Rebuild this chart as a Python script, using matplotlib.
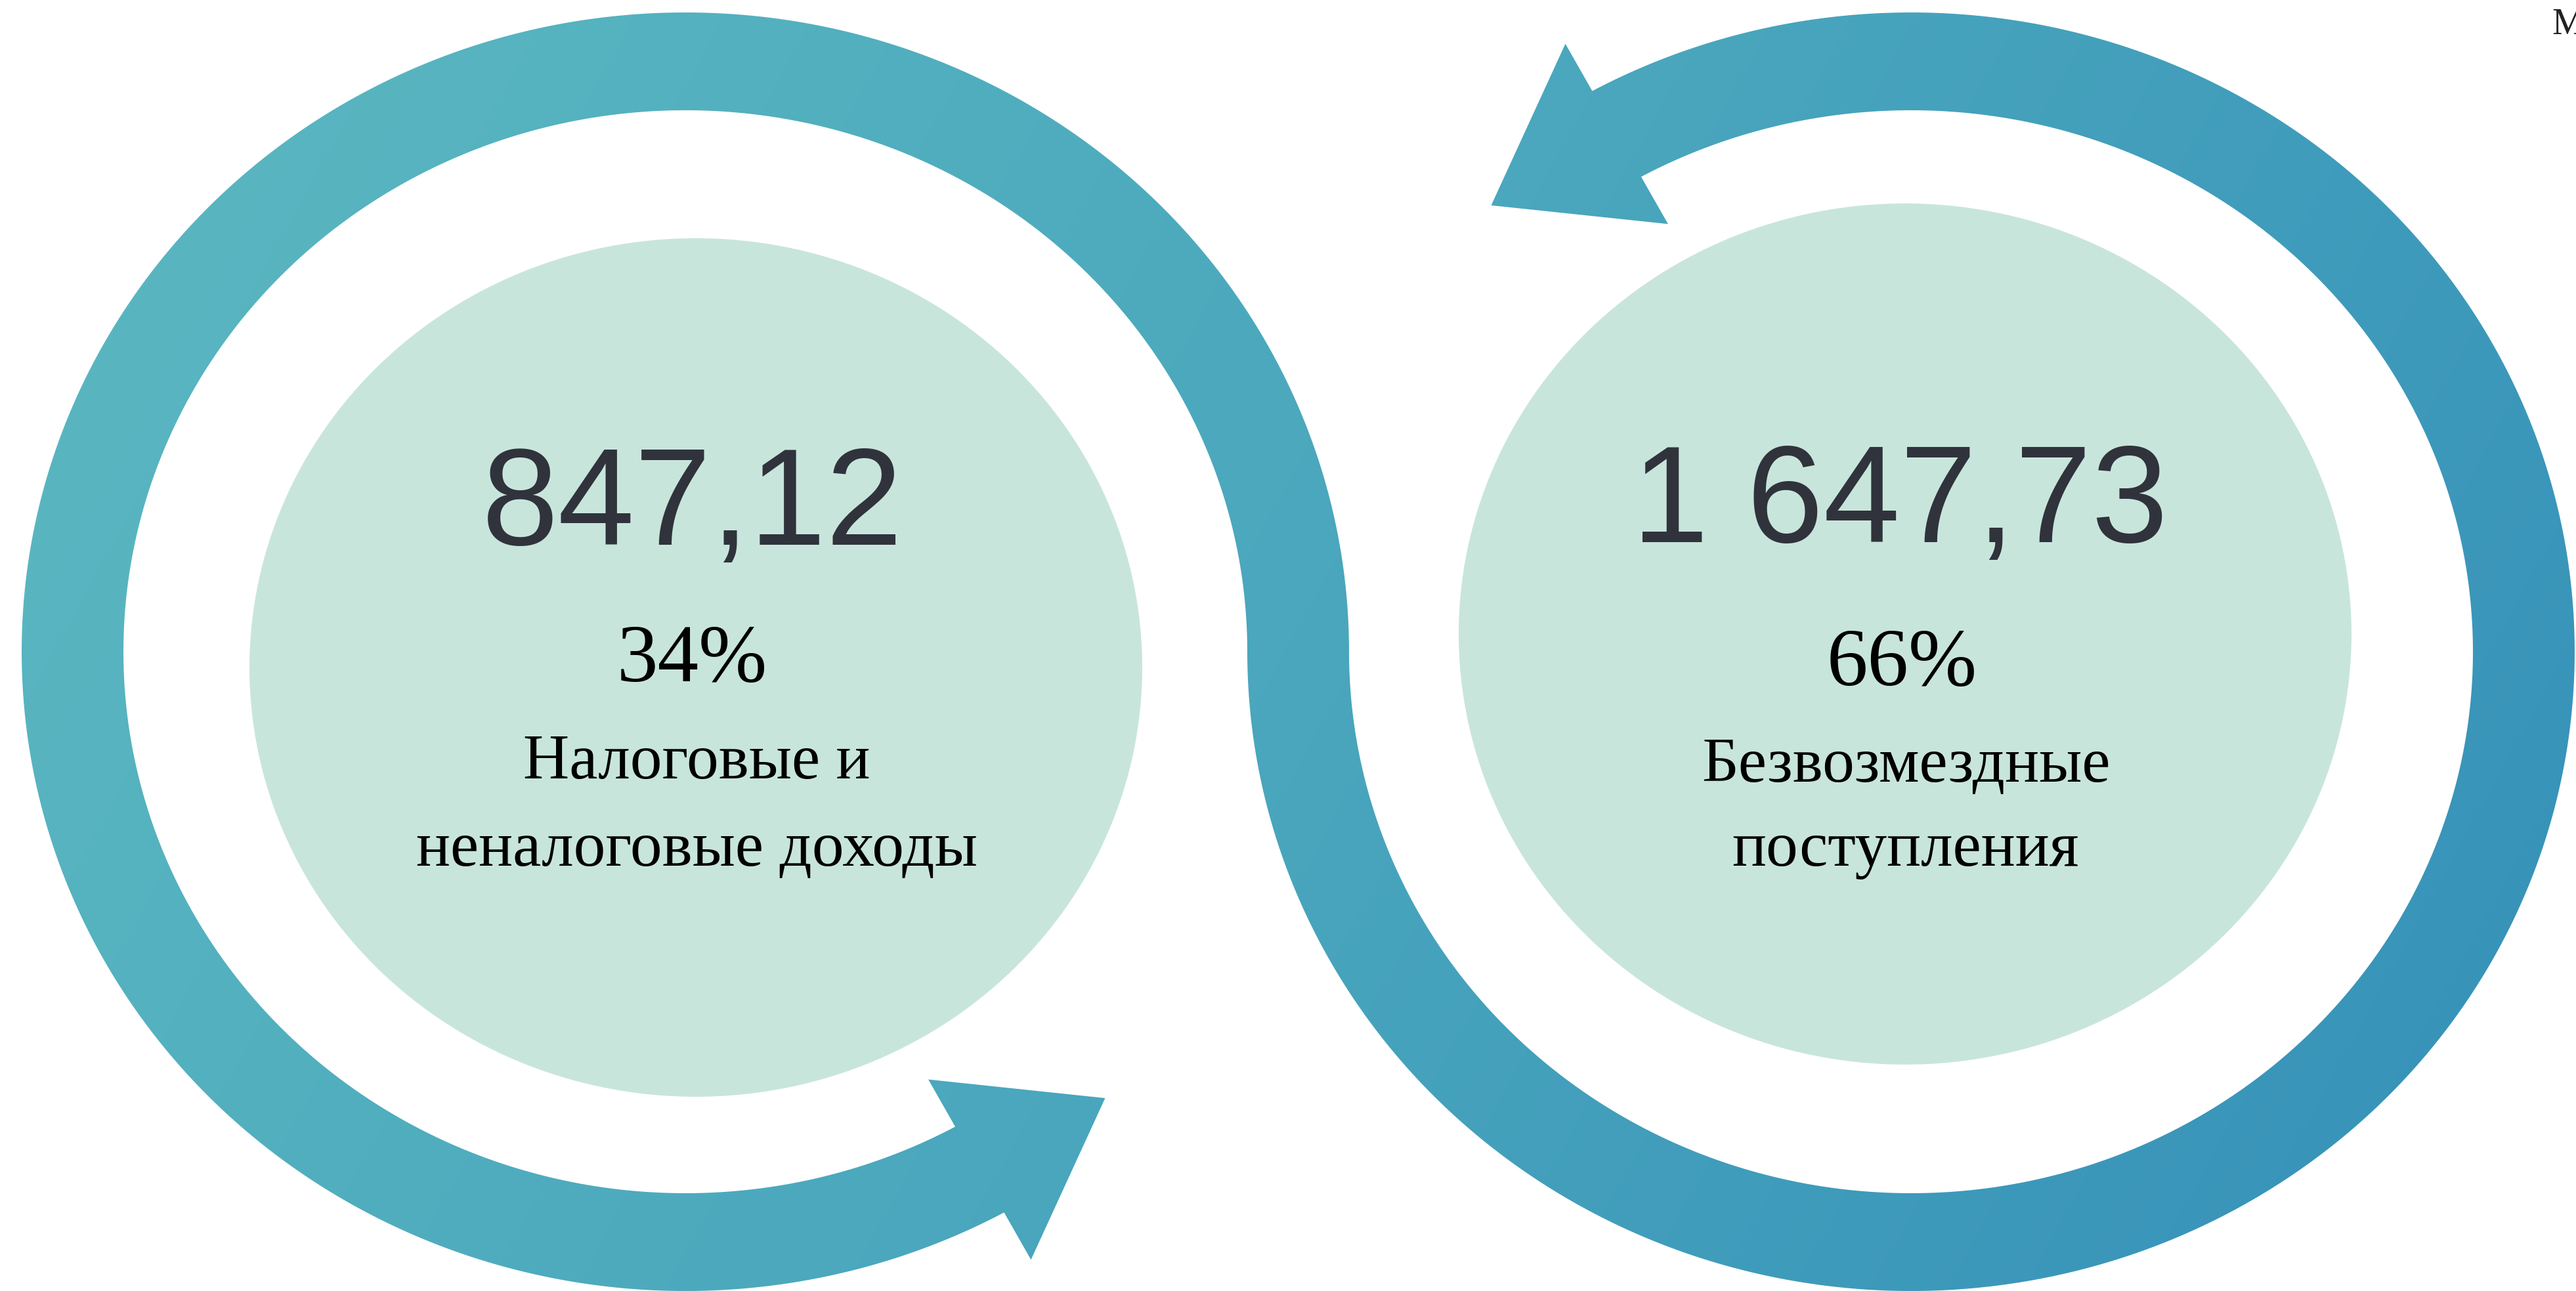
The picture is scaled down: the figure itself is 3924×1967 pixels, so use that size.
import numpy as np
import matplotlib.pyplot as plt
from matplotlib.path import Path
from matplotlib.patches import PathPatch, Ellipse
from matplotlib.colors import LinearSegmentedColormap

W, H = 3924, 1967

# данные
values = [847.12, 1647.73]
shares = [34, 66]
labels = [['Налоговые и', 'неналоговые доходы'],
          ['Безвозмездные', 'поступления']]
unit = 'Млн. руб.'

# геометрия колец (в пикселях картинки)
cy = 993
cx_rings = [1044, 2911]
a_out, a_in = 1011, 856
b_out, b_in = 974, 825
t_end = 298.7


def ell(cx, a, b, t):
    return np.column_stack([cx + a*np.cos(t), cy - b*np.sin(t)])


def head(p_in, p_out, half=158, length=220):
    P = (p_in + p_out) / 2
    u = (p_out - p_in) / np.linalg.norm(p_out - p_in)
    d = np.array([u[1], -u[0]])
    return np.array([P - u*half, P + d*length, P + u*half])


tl = np.radians(np.linspace(0, t_end, 500))
tr = np.radians(np.linspace(180, t_end + 180, 500))
l_out = ell(cx_rings[0], a_out, b_out, tl)
l_in = ell(cx_rings[0], a_in, b_in, tl)
r_out = ell(cx_rings[1], a_out, b_out, tr)
r_in = ell(cx_rings[1], a_in, b_in, tr)

verts = np.vstack([l_out[::-1], r_in,
                   head(r_in[-1], r_out[-1]),
                   r_out[::-1], l_in,
                   head(l_in[-1], l_out[-1]),
                   l_out[-1:]])

fig = plt.figure(figsize=(W/100, H/100), dpi=100)
ax = fig.add_axes([0, 0, 1, 1])

# светлые эллипсы
ax.add_patch(Ellipse((1060, 1017), 1360, 1308, fc='#c8e5dc', ec='none'))
ax.add_patch(Ellipse((2902, 966), 1360, 1312, fc='#c8e5dc', ec='none'))

# лента-стрелка с градиентом
band = PathPatch(Path(verts, closed=True), fc='none', ec='none')
ax.add_patch(band)
cmap = LinearSegmentedColormap.from_list('g', ['#5cb9c1', '#4aa7bd', '#3590b9'])
yy, xx = np.mgrid[0:H:4, 0:W:4]
im = ax.imshow(xx + 0.55*yy, extent=(0, W, H, 0), cmap=cmap,
               vmin=0, vmax=5000, interpolation='bilinear')
im.set_clip_path(band)

# подписи
num_x = [1055, 2894]
pct_x = [1054, 2897]
lab_x = [1061, 2903]
num_y = [830, 826]
pct_y = [1038, 1044]
lab_y = [[1186, 1319], [1191, 1319]]
for i in range(2):
    s = f'{values[i]:,.2f}'.replace(',', ' ').replace('.', ',')
    ax.text(num_x[i], num_y[i], s, ha='center', va='baseline',
            fontsize=151, family='Liberation Sans', color='#30333b')
    ax.text(pct_x[i], pct_y[i], f'{shares[i]}%', ha='center', va='baseline',
            fontsize=90, family='Liberation Serif', color='black')
    for j, line in enumerate(labels[i]):
        ax.text(lab_x[i], lab_y[i][j], line, ha='center', va='baseline',
                fontsize=70, family='Liberation Serif', color='black')

ax.text(3888, 52, unit, ha='left', va='baseline', fontsize=40,
        family='Liberation Serif', color='#222222')

ax.set_xlim(0, W)
ax.set_ylim(H, 0)
ax.set_aspect('auto')
ax.axis('off')
fig.savefig('out.png', dpi=100)
